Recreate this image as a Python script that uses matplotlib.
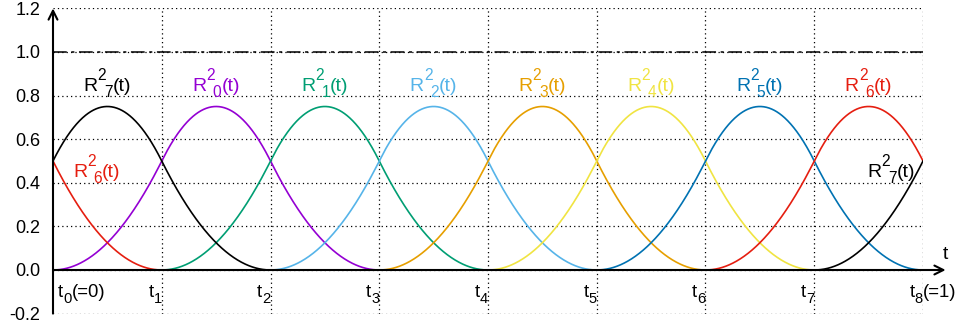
import numpy as np
import matplotlib
matplotlib.use("Agg")
import matplotlib.pyplot as plt
from matplotlib.transforms import offset_copy

plt.rcParams["font.family"] = ["Liberation Sans", "DejaVu Sans"]

# Uniform periodic knot sequence on [0, 1]
n_segments = 8
degree = 2
knots = np.linspace(0.0, 1.0, n_segments + 1)
basis_index = list(range(n_segments))
colors = ["#9400D3", "#009E73", "#56B4E9", "#E69F00",
          "#F0E442", "#0072B2", "#E51E10", "black"]
yticks = [-0.2, 0.0, 0.2, 0.4, 0.6, 0.8, 1.0, 1.2]
knot_suffix = ["(=0)"] + [""] * (n_segments - 1) + ["(=1)"]

FS = 14.0
FS_KNOT = 13.3
FS_TICK = 13.0
SUP_RISE = 0.57
SUB_DROP = -0.31


def bspline(x, u, k):
    """Cox-de Boor recursion for a single basis function on knots u."""
    if k == 0:
        return np.where((x >= u[0]) & (x < u[1]), 1.0, 0.0)
    left = (x - u[0]) / (u[k] - u[0]) * bspline(x, u[:-1], k - 1)
    right = (u[k + 1] - x) / (u[k + 1] - u[1]) * bspline(x, u[1:], k - 1)
    return left + right


def periodic_basis(x, i):
    h = knots[1] - knots[0]
    u = knots[0] + h * np.arange(i, i + degree + 2)
    return sum(bspline(x + s, u, degree) for s in (-1.0, 0.0, 1.0))


fig = plt.figure(figsize=(9.56, 3.28), dpi=100)
ax = fig.add_axes([53 / 956, 14.4 / 328, 870 / 956, 305.2 / 328])
ax.set_xlim(0, 1)
ax.set_ylim(-0.2, 1.2)
renderer = fig.canvas.get_renderer()


def rich(x, y, parts, color="black", anchor="center", anchor_part=None,
         dx0=0.0, fs=FS):
    """Draw text built from (string, scale, rise) parts on a shared baseline.

    A superscript followed by a subscript is stacked with a horizontal shift.
    """
    texts, widths = [], []
    for s, scale, rise in parts:
        t = ax.text(x, y, s, fontsize=fs * scale, color=color,
                    ha="left", va="baseline", clip_on=False)
        texts.append(t)
        widths.append(t.get_window_extent(renderer).width)
    xs, cur, prev_start = [], 0.0, 0.0
    for k, (s, scale, rise) in enumerate(parts):
        if k > 0 and rise < 0 and parts[k - 1][2] > 0:
            start = prev_start + 0.74 * widths[k - 1]
            cur = max(cur, start + widths[k])
        else:
            start = cur
            cur = start + widths[k]
        xs.append(start)
        prev_start = start
    total = cur
    if anchor == "center":
        shift = -total / 2
    elif anchor == "left":
        shift = 0.0
    else:  # right edge of a chosen part sits on the anchor
        shift = -(xs[anchor_part] + widths[anchor_part])
    for t, xp, (s, scale, rise) in zip(texts, xs, parts):
        t.set_transform(offset_copy(ax.transData, fig=fig,
                                    x=xp + shift + dx0, y=rise * fs * 100 / 72,
                                    units="dots"))


def basis_label(i):
    return [("R", 1.0, 0.0), ("2", 0.8, SUP_RISE), (str(i), 0.8, SUB_DROP),
            ("(t)", 1.0, 0.0)]


x = np.linspace(0, 1, 2001)
for i in basis_index:
    ax.plot(x, periodic_basis(x, i), color=colors[i], lw=1.2, zorder=3)

# dotted grid
for xv in knots[1:]:
    ax.axvline(xv, color="black", lw=0.9, ls=(0, (1, 2.5)), zorder=1)
for yv in yticks:
    ax.axhline(yv, color="black", lw=0.9, ls=(0, (1, 2.5)), zorder=1)

ax.axhline(1.0, color="black", lw=1.1, ls=(0, (9, 3, 2, 3)), zorder=2)

for s in ax.spines.values():
    s.set_visible(False)
ax.set_xticks([])
ax.set_yticks(yticks)
ax.set_yticklabels(["%.1f" % v for v in yticks], fontsize=FS_TICK)
ax.tick_params(axis="y", length=0, pad=9)

# axes with arrows
ax.annotate("", xy=(0, 1.2), xytext=(0, -0.2),
            arrowprops=dict(arrowstyle="->", lw=1.5, color="black",
                            shrinkA=0, shrinkB=0, mutation_scale=16),
            annotation_clip=False, zorder=5)
ax.annotate("", xy=(1.026, 0), xytext=(0, 0),
            arrowprops=dict(arrowstyle="->", lw=1.5, color="black",
                            shrinkA=0, shrinkB=0, mutation_scale=16),
            annotation_clip=False, zorder=5)
ax.text(1.026, 0.07, "t", fontsize=FS, ha="center", va="center", clip_on=False)

# knot labels below the axis
for i, kv in enumerate(knots):
    parts = [("t", 1.0, 0.0), (str(i), 0.8, SUB_DROP)]
    if knot_suffix[i]:
        parts.append((knot_suffix[i], 1.0, 0.0))
    if i == 0:
        rich(kv, -0.124, parts, anchor="left", dx0=5, fs=FS_KNOT)
    else:
        rich(kv, -0.124, parts, anchor="right", anchor_part=1, dx0=0,
             fs=FS_KNOT)

# labels above each peak
h = knots[1] - knots[0]
for i in basis_index:
    peak = ((i + 1.5) * h) % 1.0
    rich(peak, 0.82, basis_label(i), color=colors[i])

# wrapped pieces at both ends
rich(0.023, 0.427, basis_label(6), color=colors[6], anchor="left")
rich(0.936, 0.427, basis_label(7), color=colors[7], anchor="left")

fig.savefig("out.png", dpi=100)
